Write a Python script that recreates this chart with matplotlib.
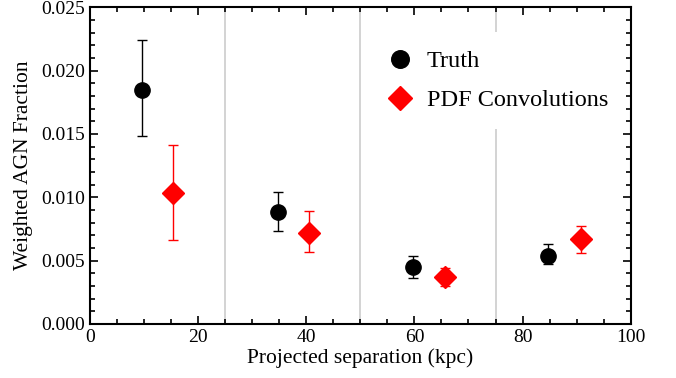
import matplotlib
matplotlib.use('Agg')
import matplotlib.pyplot as plt
from matplotlib.ticker import MultipleLocator

# Data
truth_x = [9.6, 34.7, 59.7, 84.7]
truth_y = [0.0185, 0.0088, 0.0045, 0.0054]
truth_lo = [0.0148, 0.0073, 0.0036, 0.0047]
truth_hi = [0.0224, 0.0104, 0.0054, 0.0063]

pdf_x = [15.4, 40.6, 65.7, 90.8]
pdf_y = [0.0103, 0.0072, 0.0037, 0.0067]
pdf_lo = [0.0066, 0.0057, 0.0030, 0.0056]
pdf_hi = [0.0141, 0.0089, 0.0044, 0.0077]

bin_edges = [25, 50, 75]

plt.rcParams['font.family'] = ['Liberation Serif', 'DejaVu Serif']

fig = plt.figure(figsize=(6.76, 3.78), dpi=100)
ax = fig.add_axes([0.133, 0.143, 0.8, 0.838])

# Bin boundaries
for xb in bin_edges:
    ax.axvline(xb, color='#cccccc', lw=1.2, zorder=0)

# Error bars
t_err = [[y - lo for y, lo in zip(truth_y, truth_lo)], [hi - y for y, hi in zip(truth_y, truth_hi)]]
p_err = [[y - lo for y, lo in zip(pdf_y, pdf_lo)], [hi - y for y, hi in zip(pdf_y, pdf_hi)]]
ax.errorbar(truth_x, truth_y, yerr=t_err, fmt='o', color='black', ms=11, capsize=3.4, elinewidth=1, capthick=1, label='Truth', zorder=3)
ax.errorbar(pdf_x, pdf_y, yerr=p_err, fmt='D', color='red', ms=11, capsize=3.4, elinewidth=1, capthick=1, label='PDF Convolutions', zorder=3)

# Axes formatting
ax.set_xlim(0, 100)
ax.set_ylim(0, 0.025)
ax.xaxis.set_major_locator(MultipleLocator(20))
ax.xaxis.set_minor_locator(MultipleLocator(5))
ax.yaxis.set_major_locator(MultipleLocator(0.005))
ax.yaxis.set_minor_locator(MultipleLocator(0.001))
ax.yaxis.set_major_formatter(plt.FuncFormatter(lambda v, p: f'{v:.3f}'))
ax.tick_params(which='both', direction='in', top=True, right=True, labelsize=14, width=1.2)
ax.tick_params(which='major', length=6)
ax.tick_params(which='minor', length=3.5)
for s in ax.spines.values():
    s.set_linewidth(1.5)
ax.set_xlabel('Projected separation (kpc)', fontsize=15.5, labelpad=2)
ax.set_ylabel('Weighted AGN Fraction', fontsize=15.5, labelpad=6)

# Legend with white background, no edge (hides part of the last bin line)
handles, labels = ax.get_legend_handles_labels()
handles = [h[0] for h in handles]
leg = ax.legend(handles, labels, loc='upper left', bbox_to_anchor=(0.513, 0.922),
                borderaxespad=0, fontsize=17.5, frameon=True, fancybox=False,
                edgecolor='none', framealpha=1, handlelength=1.2, handletextpad=0.5,
                borderpad=0.75, labelspacing=0.7, markerscale=1.15)
leg.set_zorder(2)

plt.savefig('out.png', dpi=100)
plt.close()
